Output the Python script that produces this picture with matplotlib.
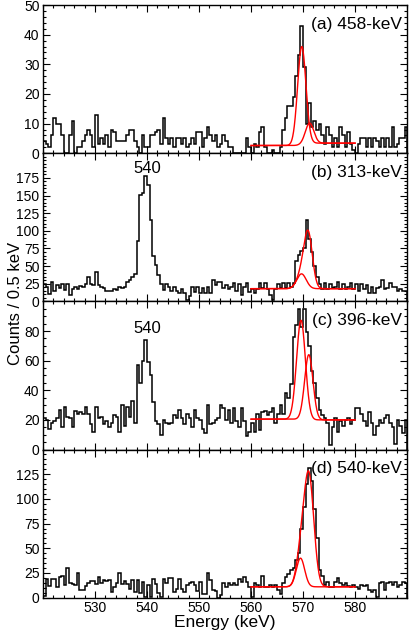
import numpy as np
import matplotlib
matplotlib.use('Agg')
import matplotlib.pyplot as plt
from matplotlib.ticker import MultipleLocator
from math import erf, sqrt

plt.rcParams['font.family'] = ['Liberation Sans Narrow', 'Liberation Sans', 'DejaVu Sans']
plt.rcParams['font.size'] = 10

### energy axis: 0.5 keV bins from 520 to 590 keV ###
e_lo, e_hi, bin_w = 520.0, 590.0, 0.5
edges = np.arange(e_lo, e_hi + bin_w / 2, bin_w)

### counts per bin ###
counts_a = [4, 3, 2, 6, 12, 10, 10, 6, 0, 0,
            6, 11, 0, 2, 2, 4, 6, 8, 6, 2,
            13, 3, 5, 3, 6, 2, 8, 7, 4, 4,
            4, 4, 6, 8, 8, 4, 2, 0, 6, 2,
            2, 6, 6, 7, 8, 3, 12, 5, 3, 5,
            2, 5, 5, 3, 5, 2, 3, 5, 3, 7,
            7, 2, 5, 9, 6, 4, 6, 2, 3, 6,
            4, 2, 2, 0, 0, 0, 0, 0, 5, 2,
            0, 3, 2, 7, 9, 2, 0, 0, 1, 0,
            0, 2, 8, 12, 16, 16, 19, 26, 33, 43,
            29, 10, 17, 9, 11, 8, 10, 6, 3, 9,
            6, 2, 5, 2, 9, 6, 2, 7, 3, 1,
            0, 3, 5, 5, 2, 5, 2, 5, 4, 2,
            5, 2, 5, 2, 9, 2, 3, 5, 5, 9]

counts_b = [25, 21, 10, 27, 14, 23, 19, 24, 16, 25,
            9, 18, 21, 18, 22, 21, 24, 34, 25, 23,
            42, 23, 21, 19, 15, 14, 15, 17, 16, 21,
            19, 21, 27, 31, 35, 39, 86, 151, 153, 177,
            165, 116, 65, 51, 38, 24, 16, 24, 20, 14,
            21, 15, 12, 18, 12, 2, 8, 21, 13, 21,
            12, 19, 12, 21, 12, 31, 23, 28, 27, 19,
            23, 17, 20, 26, 14, 24, 9, 21, 26, 13,
            17, 12, 17, 26, 19, 26, 17, 9, 2, 17,
            24, 19, 26, 19, 26, 20, 26, 57, 66, 71,
            76, 115, 88, 70, 50, 35, 24, 17, 26, 17,
            25, 19, 21, 28, 17, 25, 17, 20, 26, 17,
            24, 15, 24, 17, 23, 12, 21, 12, 19, 21,
            31, 17, 19, 26, 21, 20, 14, 17, 14, 14]

counts_c = [21, 20, 14, 18, 19, 21, 27, 15, 29, 22,
            21, 15, 26, 24, 25, 24, 29, 24, 17, 12,
            29, 21, 22, 17, 19, 15, 18, 23, 22, 12,
            30, 16, 29, 22, 33, 18, 57, 45, 60, 74,
            59, 50, 32, 19, 17, 10, 20, 18, 17, 18,
            23, 21, 27, 21, 17, 24, 21, 15, 27, 21,
            20, 14, 11, 30, 17, 18, 20, 21, 30, 28,
            20, 27, 18, 28, 19, 15, 28, 19, 9, 12,
            18, 12, 24, 13, 25, 26, 23, 25, 28, 18,
            24, 30, 24, 38, 35, 44, 76, 84, 95, 83,
            95, 79, 70, 53, 45, 35, 27, 23, 21, 18,
            3, 15, 21, 12, 19, 16, 20, 21, 17, 20,
            28, 28, 24, 19, 16, 25, 18, 10, 16, 20,
            18, 21, 23, 18, 15, 4, 20, 16, 11, 20]

counts_d = [2, 19, 12, 19, 19, 11, 21, 22, 13, 30,
            15, 14, 13, 25, 8, 8, 12, 15, 17, 17,
            14, 21, 15, 18, 17, 18, 6, 11, 15, 25,
            14, 17, 14, 9, 18, 6, 18, 5, 16, 1,
            13, 1, 19, 14, 5, 1, 19, 15, 20, 20,
            6, 9, 19, 9, 6, 13, 15, 16, 13, 7,
            16, 4, 4, 25, 18, 8, 7, 0, 3, 15,
            11, 15, 13, 15, 13, 19, 16, 21, 16, 11,
            1, 15, 13, 11, 22, 11, 11, 13, 11, 13,
            8, 4, 15, 21, 24, 28, 30, 38, 45, 70,
            92, 115, 131, 118, 90, 60, 28, 22, 13, 16,
            11, 11, 16, 20, 15, 13, 15, 12, 11, 13,
            11, 9, 13, 12, 13, 8, 6, 8, 1, 15,
            16, 8, 15, 16, 13, 16, 11, 13, 16, 15]

panel_labels = ['(a) 458-keV', '(b) 313-keV', '(c) 396-keV', '(d) 540-keV']
y_max = [50, 210, 100, 150]
y_major = [10, 25, 20, 25]
y_minor = [2, 5, 5, 5]
y_last = [50, 175, 80, 125]

### fit results: background (left, right), gaussians (centre, amplitude, sigma) ###
fit_bg = [(2.6, 3.4), (18, 18), (20.5, 20), (11, 11)]
fit_g1 = [(569.75, 33, 0.8), (571.0, 75, 0.8), (569.6, 67, 0.85), (571.1, 113, 0.95)]
fit_g2 = [(571.25, 6.8, 0.8), (569.7, 21, 0.9), (571.1, 44, 0.8), (569.5, 29, 0.8)]
fit_total = [False, True, False, True]   # first curve drawn as sum of both peaks
fit_lo, fit_hi = 560, 580


def gauss(x, g):
    c, a, s = g
    return a * np.exp(-(x - c) ** 2 / (2 * s * s))


def background(x, bg, g):
    b0, b1 = bg
    c, a, s = g
    step = np.array([0.5 * (1 + erf((v - c) / (sqrt(2) * s))) for v in x])
    return b0 + (b1 - b0) * step


fig, axes = plt.subplots(4, 1, sharex=True, figsize=(4.15, 6.33), dpi=100,
                         gridspec_kw=dict(hspace=0))
fig.subplots_adjust(left=0.1036, right=0.981, top=0.992, bottom=0.0558)

xf = np.linspace(fit_lo, fit_hi, 800)
all_counts = [counts_a, counts_b, counts_c, counts_d]

for k, ax in enumerate(axes):
    ax.stairs(all_counts[k], edges, color='black', lw=1.1)

    bg = background(xf, fit_bg[k], fit_g1[k])
    g1 = gauss(xf, fit_g1[k])
    g2 = gauss(xf, fit_g2[k])
    if fit_total[k]:
        ax.plot(xf, bg + g1 + g2, color='red', lw=1.0)
    else:
        ax.plot(xf, bg + g1, color='red', lw=1.0)
    ax.plot(xf, bg + g2, color='red', lw=1.0)

    ax.set_xlim(e_lo, e_hi)
    ax.set_ylim(0, y_max[k])
    ax.set_yticks(np.arange(0, y_last[k] + 1, y_major[k]))
    ax.yaxis.set_minor_locator(MultipleLocator(y_minor[k]))
    ax.xaxis.set_major_locator(MultipleLocator(10))
    ax.xaxis.set_minor_locator(MultipleLocator(2))
    ax.tick_params(which='both', direction='in', top=True, right=True,
                   labelsize=10, pad=2.5, width=0.8)
    ax.tick_params(which='major', length=5)
    ax.tick_params(which='minor', length=2.5)
    for sp in ax.spines.values():
        sp.set_linewidth(1.0)

    ax.text(0.985, 0.87, panel_labels[k], transform=ax.transAxes,
            ha='right', va='center', fontsize=12.5)

axes[1].text(540, 189, '540', ha='center', va='center', fontsize=12)
axes[2].text(540, 82, '540', ha='center', va='center', fontsize=12)

axes[3].set_xticks([530, 540, 550, 560, 570, 580])
fig.text(0.038, 0.521, 'Counts / 0.5 keV', rotation=90, ha='center', va='center', fontsize=12)
fig.text(0.542, 0.016, 'Energy (keV)', ha='center', va='center', fontsize=12.5)

fig.savefig('out.png', dpi=100)
